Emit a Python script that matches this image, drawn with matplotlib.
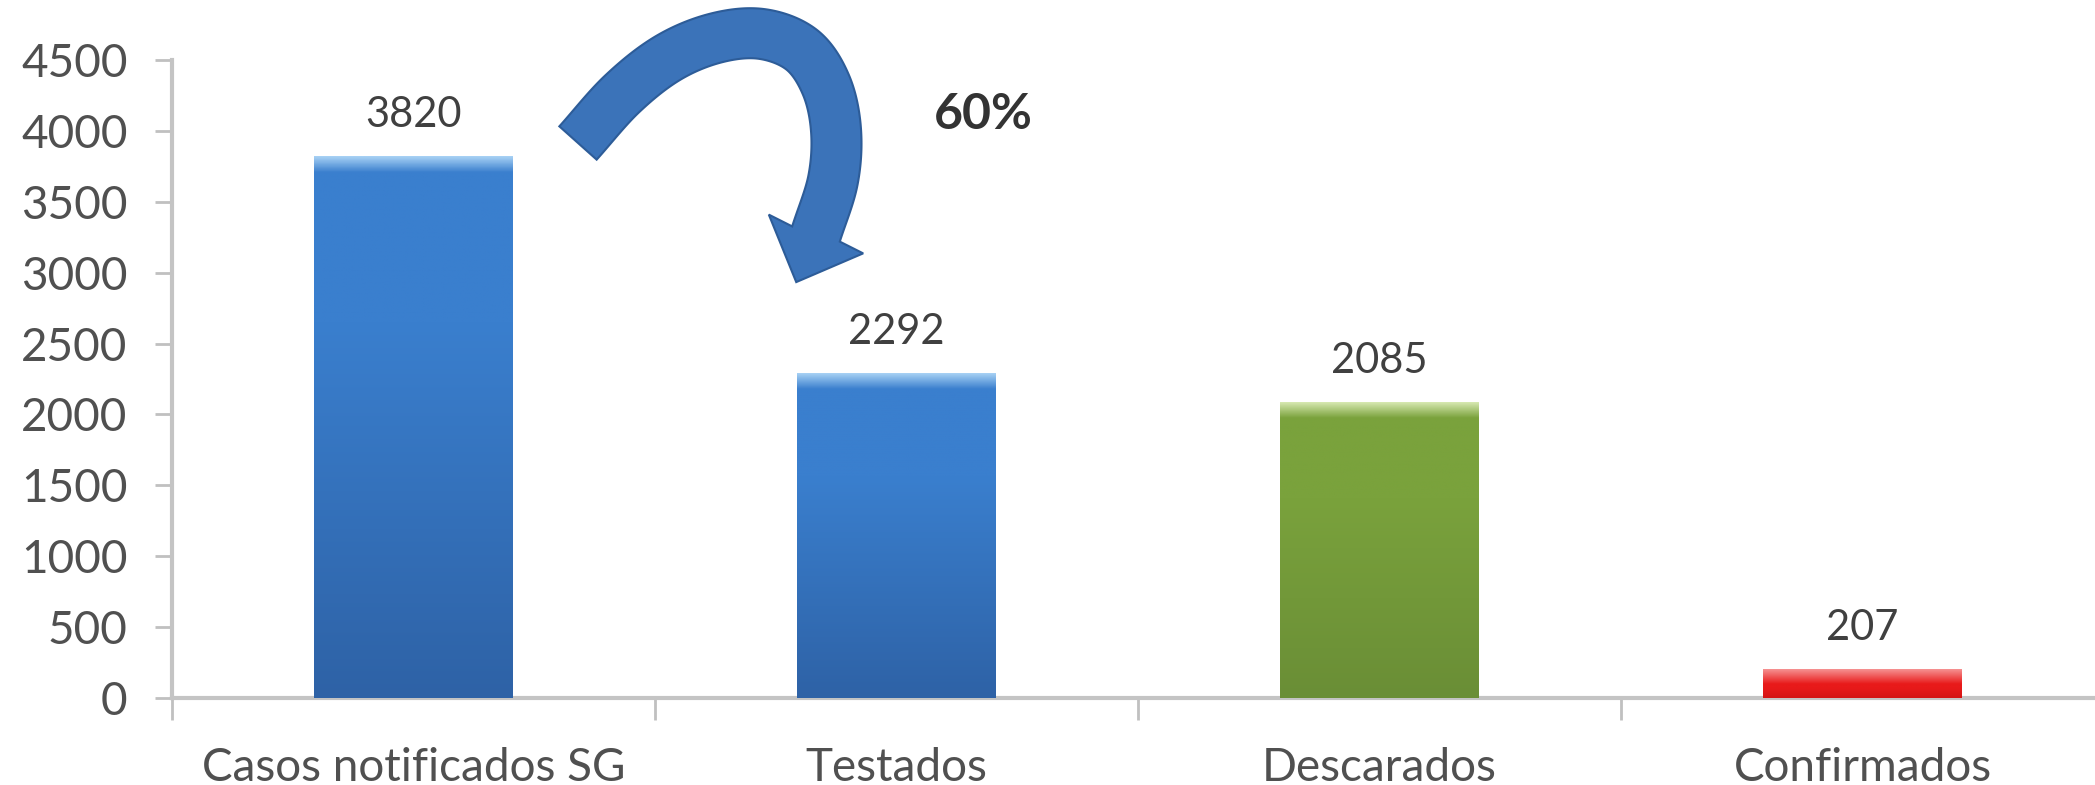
import numpy as np
import matplotlib.pyplot as plt
from matplotlib.colors import to_rgb
from matplotlib.patches import Polygon
from matplotlib.transforms import IdentityTransform

# --- DATA ---
categories = ["Casos notificados SG", "Testados", "Descarados", "Confirmados"]
values = [3820, 2292, 2085, 207]
bar_colors = ["#3a7fce", "#3a7fce", "#7aa23c", "#e81a1a"]
top_colors = ["#a6d0f4", "#a6d0f4", "#d6e8b0", "#f79a9a"]
bottom_colors = ["#2e62a6", "#2e62a6", "#6a8e36", "#d41414"]
y_ticks = [0, 500, 1000, 1500, 2000, 2500, 3000, 3500, 4000, 4500]
pct_label = "60%"

W, H = 2095, 785
plt.rcParams['font.family'] = ['Lato', 'DejaVu Sans']

fig = plt.figure(figsize=(W / 100, H / 100), dpi=100)
ax = fig.add_axes([172 / W, 1 - 698 / H, 1932 / W, 638 / H])

x = np.arange(len(categories))
bars = ax.bar(x, values, width=0.41, color=bar_colors, zorder=2)

# vertical shading clipped to each bar, light band at the top
band = 110
for b, c_top, c_mid, c_bot in zip(bars, top_colors, bar_colors, bottom_colors):
    x0, y0 = b.get_x(), b.get_y()
    w, h = b.get_width(), b.get_height()
    lo, mid, hi = [np.array(to_rgb(c)) for c in (c_bot, c_mid, c_top)]
    yy = np.linspace(0, h, 400)[:, None]
    body = lo + (mid - lo) * np.clip(yy / max(h - band, 1) * 1.4, 0, 1)
    f = np.clip((yy - (h - band)) / band, 0, 1)
    grad = body * (1 - f) + hi * f
    grad = grad[:, None, :] * np.ones((1, 10, 1))
    im = ax.imshow(grad, extent=[x0, x0 + w, y0, y0 + h], origin='lower',
                   aspect='auto', zorder=3)
    im.set_clip_path(b)

# value labels
for xi, v in zip(x, values):
    ax.text(xi, v + 290, f"{v}", ha='center', va='center', fontsize=30,
            color='#404040', zorder=4)

ax.set_xlim(-0.5, 3.5)
ax.set_ylim(0, 4500)
ax.set_yticks(y_ticks)
ax.set_yticklabels([str(t) for t in y_ticks], fontsize=33, color='#505050')
ax.set_xticks(np.arange(-0.5, 4.0, 1.0))
ax.set_xticklabels([])
ax.tick_params(axis='x', length=16, width=2, color='#c0c0c0', direction='out')
ax.tick_params(axis='y', length=12, width=2, color='#c0c0c0', pad=20)

for xi, name in zip(x, categories):
    ax.text(xi, -(781 - 698) / 638, name, transform=ax.get_xaxis_transform(),
            ha='center', va='baseline', fontsize=33, color='#505050')

for s in ['top', 'right']:
    ax.spines[s].set_visible(False)
for s in ['left', 'bottom']:
    ax.spines[s].set_color('#c4c4c4')
    ax.spines[s].set_linewidth(3)

# --- curved arrow (figure pixels, top-left origin) ---
centre = np.array([(578, 143), (622, 94), (668, 58), (716, 38), (762, 34),
                   (802, 50), (826, 85), (836, 130), (833, 180), (816, 234)],
                  float)


def catmull_rom(pts, n=25):
    p = np.vstack([2 * pts[0] - pts[1], pts, 2 * pts[-1] - pts[-2]])
    out = []
    for i in range(1, len(p) - 2):
        p0, p1, p2, p3 = p[i - 1], p[i], p[i + 1], p[i + 2]
        for t in np.linspace(0, 1, n, endpoint=False):
            out.append(0.5 * ((2 * p1) + (-p0 + p2) * t
                              + (2 * p0 - 5 * p1 + 4 * p2 - p3) * t ** 2
                              + (-p0 + 3 * p1 - 3 * p2 + p3) * t ** 3))
    out.append(pts[-1])
    return np.array(out)


line = catmull_rom(centre)
d = np.gradient(line, axis=0)
d /= np.linalg.norm(d, axis=1)[:, None]
nrm = np.column_stack([-d[:, 1], d[:, 0]])
half = 25
left = line + nrm * half
right = line - nrm * half
hd = np.array([-0.38, 0.925])
hn = np.array([-hd[1], hd[0]])
tip = line[-1] + hd * 52
head = [line[-1] + hn * 51, tip, line[-1] - hn * 51]
outline = np.vstack([left, head, right[::-1]])
outline[:, 1] = H - outline[:, 1]
fig.patches.append(Polygon(outline, closed=True, facecolor='#3b73b9',
                           edgecolor='#2d5c98', linewidth=1.5,
                           transform=IdentityTransform(), zorder=5))

ax.text(1.18, 4119, pct_label, ha='center', va='center', fontsize=36,
        fontweight='bold', color='#333333')

fig.savefig("out.png", dpi=100, facecolor='white')
